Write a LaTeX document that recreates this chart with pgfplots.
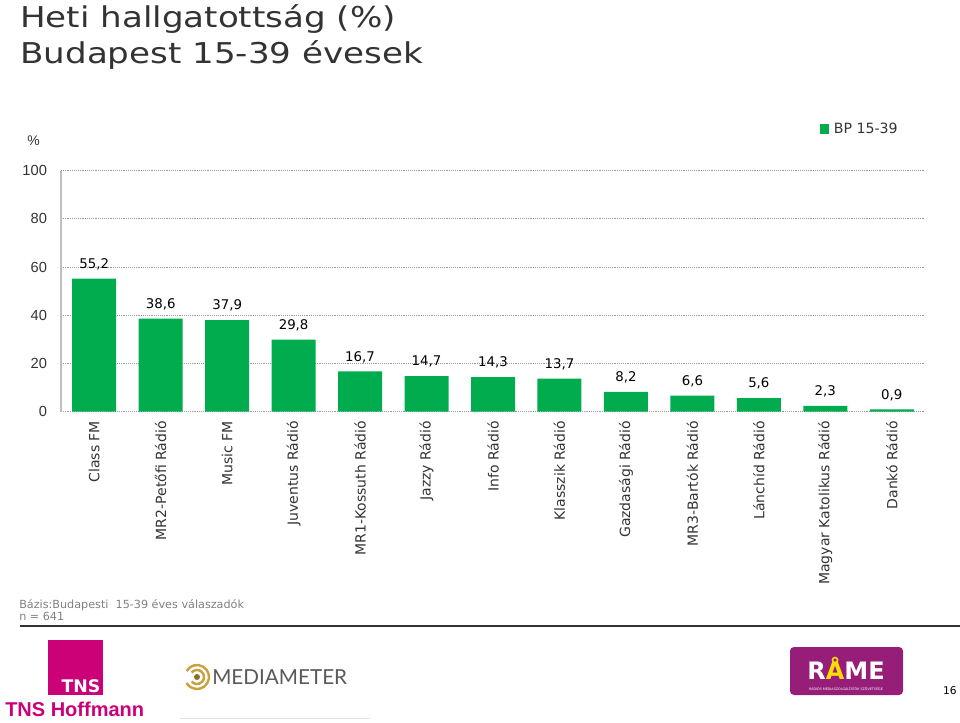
\documentclass[border=0pt]{standalone}
\usepackage{pgfplots}
\pgfplotsset{compat=1.18}
\usepackage{fontspec}
\setmainfont{DejaVu Sans}
\newfontfamily\arialf{Liberation Sans}
\newfontfamily\latof{Lato}
\definecolor{barg}{RGB}{0,172,78}
\definecolor{titleg}{RGB}{51,51,51}
\definecolor{tnsm}{RGB}{204,0,119}
\definecolor{ramep}{RGB}{150,30,120}
\definecolor{gold}{RGB}{200,160,60}
\begin{document}
\begin{tikzpicture}[x=0.75pt,y=0.75pt]
\path[use as bounding box] (0,0) rectangle (960,722);
% title
\node[anchor=base west, inner sep=0, text=titleg, xscale=1.19, font=\fontsize{21.5}{25}\selectfont] at (20,694) {Heti hallgatottság (\%)};
\node[anchor=base west, inner sep=0, text=titleg, xscale=1.19, font=\fontsize{21.5}{25}\selectfont] at (20,658) {Budapest 15-39 évesek};
% percent label
\node[anchor=base west, inner sep=0, text=titleg, font=\arialf\fontsize{10.5}{12}\selectfont] at (27,576) {\%};
\begin{axis}[
  at={(45.75pt,232.875pt)}, anchor=south west, scale only axis,
  width=648pt, height=180.6pt,
  ymin=0, ymax=100, xmin=-0.5, xmax=12.5,
  ytick={0,20,...,100},
  xtick=data,
  xticklabels={Class FM, MR2-Petőfi Rádió, Music FM, Juventus Rádió, MR1-Kossuth Rádió, Jazzy Rádió, Info Rádió, Klasszik Rádió, Gazdasági Rádió, MR3-Bartók Rádió, Lánchíd Rádió, Magyar Katolikus Rádió, Dankó Rádió},
  xticklabel style={rotate=90, anchor=east, font=\fontsize{10.5}{12}\selectfont, text=titleg, inner sep=0pt},
  xticklabel shift=7pt,
  yticklabel style={font=\arialf\fontsize{11}{13}\selectfont, text=titleg, xshift=-7pt},
  /pgf/number format/assume math mode=true,
  /pgf/number format/use comma,
  /pgf/number format/fixed,
  /pgf/number format/fixed zerofill,
  /pgf/number format/precision=1,
  major tick length=0pt,
  axis lines=left,
  x axis line style={draw=none},
  y axis line style={draw=gray!50, line width=0.8pt, -},
  ymajorgrids,
  grid style={densely dotted, gray!80, line width=0.6pt},
  ybar, bar width=33pt,
  nodes near coords,
  nodes near coords style={font=\fontsize{10}{12}\selectfont, text=black, yshift=3pt},
  yticklabel={\pgfmathprintnumber[precision=0]{\tick}},
  legend style={at={(0.878,1.173)}, anchor=west, draw=none, fill=none, font=\fontsize{10.6}{12}\selectfont, text=titleg, inner sep=0pt, nodes={inner xsep=3.5pt, inner ysep=0pt}},
  legend image code/.code={\fill[barg] (0pt,-3.5pt) rectangle (7pt,3.5pt);},
  clip=false,
]
\addplot[fill=barg, draw=none] coordinates {
(0,55.2) (1,38.6) (2,37.9) (3,29.8) (4,16.7) (5,14.7) (6,14.3) (7,13.7) (8,8.2) (9,6.6) (10,5.6) (11,2.3) (12,0.9)};
\addlegendentry{BP 15-39}
\end{axis}
% footer
\node[anchor=base west, inner sep=0, text=gray, font=\fontsize{8.4}{9.5}\selectfont] at (19,114) {Bázis:Budapesti\ \ 15-39 éves válaszadók};
\node[anchor=base west, inner sep=0, text=gray, font=\fontsize{8.4}{9.5}\selectfont] at (19,102) {n = 641};
\draw[line width=1.1pt, titleg] (20,96) -- (960,96);
% TNS logo
\fill[tnsm] (48,27) rectangle (103,82);
\node[text=white, font=\bfseries\fontsize{13}{14}\selectfont, inner sep=0] at (81,36) {TNS};
\node[anchor=base west, text=tnsm, font=\arialf\bfseries\fontsize{15}{16}\selectfont, inner sep=0] at (5,6) {TNS Hoffmann};
% Mediameter
\draw[gold, line width=1.8pt] (197,45) ++(150:12) arc (150:-150:12);
\draw[gold, line width=1.8pt] (197,45) ++(140:7) arc (140:-140:7);
\fill[gold!70!black] (197,45) circle (3);
\node[anchor=west, text=gray!70!black, font=\latof\fontsize{15.5}{17}\selectfont, inner sep=0] at (212,45) {MEDIAMETER};
\draw[gray!20] (180,4) -- (370,4);
% RAME
\fill[ramep, rounded corners=3] (790,27) rectangle (903,75);
\node[text=white, font=\bfseries\fontsize{18}{20}\selectfont, inner sep=0] at (846,54) {R\textcolor{yellow!80!orange}{Å}ME};
\node[text=white, font=\fontsize{2.5}{3}\selectfont, inner sep=0] at (846,33) {RÁDIÓS MÉDIASZOLGÁLTATÓK SZÖVETSÉGE};
\node[anchor=base east, text=black, font=\fontsize{8}{9}\selectfont, inner sep=0] at (957,28) {16};
\end{tikzpicture}
\end{document}
